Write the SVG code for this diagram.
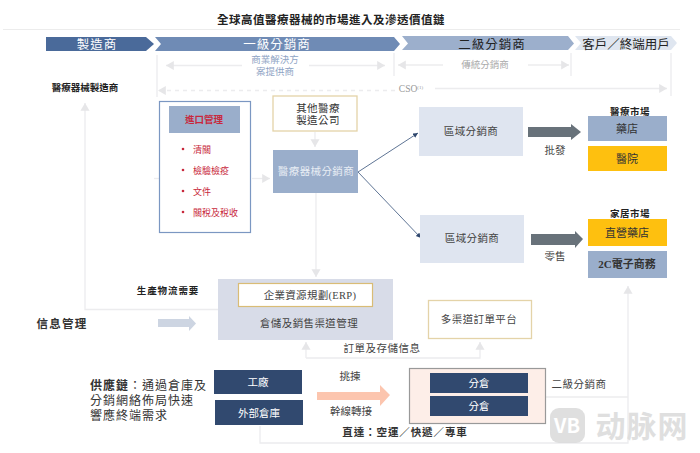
<svg xmlns="http://www.w3.org/2000/svg" width="700" height="453" viewBox="0 0 700 453">
<style>
text{font-family:"Liberation Serif","Noto Sans CJK TC",serif;text-anchor:middle;fill:#444}
.s{font-family:"Noto Sans CJK TC","Liberation Sans",sans-serif}
.t{font-size:10.5px;letter-spacing:.4px}
.b{font-size:9.5px;font-weight:700;fill:#222;font-family:"Noto Sans CJK TC",sans-serif}
.r{font-size:9px;fill:#c8283c;text-anchor:start}
.l{fill:none;stroke:#ececee;stroke-width:1.3}
.w{fill:#fff;font-size:10.5px}
.h{font-size:12.5px;font-family:"Noto Sans CJK TC",sans-serif;letter-spacing:1px}
.c{font-size:12px;text-anchor:start;fill:#333;letter-spacing:1px;font-family:"Noto Sans CJK TC",sans-serif}
</style>
<defs>
<marker id="g" markerWidth="8" markerHeight="8" refX="6" refY="3.5" orient="auto"><path d="M0 0L6 3.500L0 7z" fill="#e6e6e8"/></marker>
<marker id="n" markerWidth="6" markerHeight="6" refX="5" refY="2.500" orient="auto"><path d="M0 0L5 2.500L0 5z" fill="#30486e"/></marker>
</defs>
<rect width="700" height="453" fill="#fff"/>
<text class="s" x="331" y="23.500" font-size="11.500" font-weight="700" style="fill:#222;letter-spacing:.5px">全球高值醫療器械的市場進入及滲透價值鏈</text>
<path d="M3 29.500H680" stroke="#ececec"/>
<g id="header">
<path d="M46 37H146L154 44L146 51H46z" fill="#4a6a9a"/>
<path d="M155 37H394L400 44L394 51H155L161 44z" fill="#6f8bb5"/>
<path d="M402 36H568L574 43.500L568 50H402L408 43.500z" fill="#9cafcc"/>
<path d="M575 36H671L677 43L671 50H575L581 43z" fill="#dfe6f0"/>
<text class="h" x="97" y="49" style="fill:#fff">製造商</text>
<text class="h" x="277" y="49" style="fill:#fff">一級分銷商</text>
<text class="h" x="492" y="49" style="fill:#222">二級分銷商</text>
<text class="h" x="626" y="49" style="fill:#222;letter-spacing:0">客戶／終端用戶</text>
</g>
<g id="connectors">
<path class="l" d="M157 55V97M394 53V76M571 53V76M671 53V96"/>
<path class="l" d="M242 65.500H166" marker-end="url(#g)"/>
<path class="l" d="M309 65.500H385" marker-end="url(#g)"/>
<path class="l" d="M443 65H398" marker-end="url(#g)"/>
<path class="l" d="M528 65H569" marker-end="url(#g)"/>
<path class="l" stroke-dasharray="4 4" d="M395 90.500H158" marker-end="url(#g)"/>
<path class="l" d="M435 88.500H667" marker-end="url(#g)"/>
<path class="l" d="M154 178.500H159"/>
<path class="l" d="M252 178.500H270" marker-end="url(#g)"/>
<path class="l" d="M315 132V147" marker-end="url(#g)"/>
<path class="l" d="M316 193V277" marker-end="url(#g)"/>
<path class="l" d="M218 309.500H85V103" marker-end="url(#g)"/>
<path class="l" d="M306 358H480V342" marker-end="url(#g)"/>
<path class="l" d="M306 358V342" marker-end="url(#g)"/>
<path class="l" d="M260 426V443H628V286" marker-end="url(#g)"/>
<path class="l" d="M546 397H628"/>
<path d="M358 172L418 133" stroke="#5f7595" fill="none" marker-end="url(#n)"/>
<path d="M358 172L421 238" stroke="#5f7595" fill="none" marker-end="url(#n)"/>
<path d="M528 127H571V124L581 132L571 140V137H528z" fill="#68727a"/>
<path d="M531 234H575V231L583 239L575 248V245H531z" fill="#68727a"/>
<path d="M158 319H189V316L196 323.500L189 331V327H158z" fill="#cdd5e2"/>
<path d="M317 392H380V385L390 395L380 406V400H317z" fill="#fcc5ae"/>
</g>
<text class="s" font-size="9.500" style="fill:#8ea3c4"><tspan x="275" y="63">商業解決方</tspan><tspan x="275" y="75">案提供商</tspan></text>
<text class="s" x="485" y="68" font-size="9.500" style="fill:#aaa">傳統分銷商</text>
<text x="411" y="92" font-size="9.500" style="fill:#999">CSO<tspan font-size="5" dy="-3">(1)</tspan></text>
<text class="b" x="85" y="91">醫療器械製造商</text>
<g id="import-mgmt">
<rect x="159.500" y="101.500" width="91" height="131" fill="#fff" stroke="#7b97c2" stroke-width="1.200"/>
<rect x="169" y="106" width="71" height="27" fill="#9aaecb"/>
<text x="204" y="123" font-size="9.500" font-weight="700" style="fill:#c8283c">進口管理</text>
<g fill="#c8283c"><circle cx="183" cy="149" r="1.300"/><circle cx="183" cy="170" r="1.300"/><circle cx="183" cy="191" r="1.300"/><circle cx="183" cy="212" r="1.300"/></g>
<text class="r" x="193" y="153">清關</text>
<text class="r" x="193" y="174">檢驗檢疫</text>
<text class="r" x="193" y="195">文件</text>
<text class="r" x="193" y="216">關稅及稅收</text>
</g>
<g id="other-mfr"><rect x="273" y="96" width="84" height="35" fill="#fff" stroke="#e4d3a8" stroke-width="1.300"/><text class="t" style="fill:#333"><tspan x="318" y="112">其他醫療</tspan><tspan x="318" y="124">製造公司</tspan></text></g>
<g id="distributor"><rect x="273" y="150" width="85" height="43" fill="#9aaecb"/><text x="316" y="175" font-size="10.500" style="fill:#e8edf4;letter-spacing:.4px">醫療器械分銷商</text></g>
<g id="regional1"><rect x="419" y="107" width="104" height="49" fill="#dfe5f0"/><text x="471" y="135" font-size="10.500" style="letter-spacing:.4px">區域分銷商</text></g>
<g id="regional2"><rect x="420" y="215" width="104" height="48" fill="#dfe5f0"/><text x="472" y="242" font-size="10.500" style="letter-spacing:.4px">區域分銷商</text></g>
<text x="555" y="154" font-size="10.500">批發</text>
<text x="555" y="260" font-size="10.500">零售</text>
<text class="b" x="630" y="115" style="letter-spacing:.5px">醫療市場</text>
<text class="b" x="630" y="217" style="letter-spacing:.5px">家居市場</text>
<g id="pharmacy"><rect x="588" y="116" width="79" height="25" fill="#9aaecb"/><text x="627" y="133" font-size="11" style="fill:#333">藥店</text></g>
<g id="hospital"><rect x="588" y="146" width="79" height="25" fill="#fec00f"/><text x="627" y="163" font-size="11" style="fill:#333">醫院</text></g>
<g id="direct-pharmacy"><rect x="588" y="219" width="79" height="27" fill="#fec00f"/><text x="627" y="237" font-size="11" style="fill:#333">直營藥店</text></g>
<g id="ecommerce"><rect x="588" y="251" width="79" height="27" fill="#9aaecb"/><text x="627" y="268" font-size="11" font-weight="700" style="fill:#333">2C電子商務</text></g>
<text class="b" x="168" y="294" style="letter-spacing:.9px">生產物流需要</text>
<text class="s" x="62" y="328" font-size="11.500" font-weight="700" style="fill:#333;letter-spacing:1.200px">信息管理</text>
<g id="erp">
<rect x="218" y="279" width="175" height="61" fill="#d8dce8"/>
<rect x="238.500" y="283.500" width="134" height="23" fill="#fff" stroke="#d9bc76" stroke-width="1.200"/>
<text x="310" y="299" font-size="10.500" style="letter-spacing:.3px">企業資源規劃(ERP)</text>
<text x="309" y="327" font-size="10.500" style="letter-spacing:.4px">倉儲及銷售渠道管理</text>
</g>
<g id="order-platform"><rect x="428.500" y="300.500" width="103" height="38" fill="#fff" stroke="#e4d3a8" stroke-width="1.300"/><text x="479" y="323" font-size="10.500" style="letter-spacing:.4px">多渠道訂單平台</text></g>
<text x="382" y="352" font-size="10.500" style="letter-spacing:.5px">訂單及存儲信息</text>
<text class="c"><tspan x="90" y="390" font-weight="700">供應鏈</tspan><tspan>：通過倉庫及</tspan><tspan x="90" y="405">分銷網絡佈局快速</tspan><tspan x="90" y="420">響應終端需求</tspan></text>
<g id="factory"><rect x="214" y="370" width="88" height="24" fill="#31496f"/><text class="w" x="258" y="386">工廠</text></g>
<g id="ext-warehouse"><rect x="215" y="400" width="88" height="25" fill="#31496f"/><text class="w" x="259" y="417">外部倉庫</text></g>
<text x="350" y="380" font-size="10.500">挑揀</text>
<text x="351" y="415" font-size="10.500">幹線轉接</text>
<text class="s" x="405" y="436" font-size="10.500" font-weight="700" style="fill:#333;letter-spacing:.9px">直達：空運／快遞／專車</text>
<g id="warehouses">
<rect x="409.500" y="368.500" width="136" height="55" fill="#fdeee8" stroke="#999" stroke-width="1.200"/>
<rect x="430" y="373" width="98" height="20" fill="#31496f"/><text class="w" x="479" y="387">分倉</text>
<rect x="430" y="396" width="98" height="20" fill="#31496f"/><text class="w" x="479" y="410">分倉</text>
</g>
<text x="579" y="388" font-size="10.500" style="letter-spacing:.5px">二級分銷商</text>
<g id="watermark" opacity=".9">
<rect x="550" y="408" width="35" height="35" rx="9" fill="#dcdcdc"/>
<text class="s" x="567" y="433" font-size="20" font-weight="700" style="fill:#fff">VB</text>
<text class="s" x="642" y="437" font-size="30" font-weight="700" style="fill:#dcdcdc;letter-spacing:1px">动脉网</text>
</g>
</svg>
